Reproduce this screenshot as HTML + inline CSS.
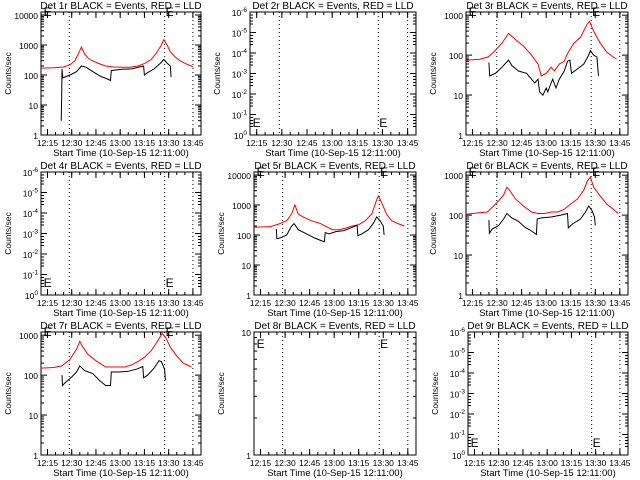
<!DOCTYPE html>
<html><head><meta charset="utf-8"><style>
body{margin:0;background:#fff}
svg{display:block;font-family:"Liberation Sans",sans-serif}
</style></head><body>
<svg id="c" width="640" height="480" viewBox="0 0 640 480"></svg>
<script>
// time axis: minutes since 12:11
const tMin = 0, tMax = 99;
const tickLabels = ["12:15","12:30","12:45","13:00","13:15","13:30","13:45"];
const tickTimes = [4,19,34,49,64,79,94];

const p1RedT=[0,8,14,18,21,23,25,27,30,35,40,45,50,55,60,64,68,71,74,76,78,80,83,86,90,94];
const p1RedV=[170,175,185,220,300,500,850,500,330,250,200,185,180,180,200,240,320,500,900,1500,1000,600,400,300,230,190];
const p1BlkT=[12.5,12.8,13,13.5,18,22,25,28,32,37,42,43,43.5,50,56,63.5,64,66,70,74,76,78,80,80.5];
const p1BlkV=[3,20,160,80,100,130,200,180,130,90,70,65,140,155,160,200,100,120,160,250,330,250,200,85];

const p3RedT=[0,8,13.5,17,22,26,30,35,40,44,46,49,52,54,57,60,62,66,70,74,75.5,78,82,86,90,92];
const p3RedV=[75,78,90,120,200,350,250,170,100,60,30,35,50,40,60,70,110,200,280,600,700,400,200,120,90,80];
const p3BlkT=[14,14.5,18,22,26,28,32,37,40,42,44,45,47,49,50,52,53,55,57,60,62,63.5,64.5,68,72,75,76,78,80,81];
const p3BlkV=[65,30,35,50,75,55,40,35,25,20,25,12,10,15,12,20,25,15,25,40,70,75,35,45,60,100,130,100,90,30];

const p5RedT=[0,10,15,20,23,25,27,30,35,40,45,48,52,56,60,64,68,72,75,76,78,81,84,88,92];
const p5RedV=[180,190,230,300,500,1000,500,400,300,250,180,150,150,170,200,220,300,500,1500,2000,1200,500,300,240,200];
const p5BlkT=[13.6,14,16,20,23,24.5,27,32,37,41,43,43.5,46,50,55,60,63,63.5,66,70,73,75,77,79,79.5];
const p5BlkV=[160,75,80,100,200,240,150,110,80,65,60,120,110,130,140,180,210,95,110,150,250,400,300,200,100];

const p6RedT=[0,8,13,17,20,23,25,27,30,35,40,44,48,52,56,60,64,68,72,74,76,78,82,86,90,93];
const p6RedV=[105,115,120,170,230,320,500,400,260,170,120,110,110,120,120,140,190,250,420,700,900,500,300,190,140,110];
const p6BlkT=[14,14.3,16,20,23,25,28,32,36,40,43,43.5,46,52,58,62,62.5,65,70,73,75,77,78.5,79];
const p6BlkV=[75,35,45,55,80,110,85,70,50,40,33,80,85,90,100,110,48,60,80,120,170,130,90,55];

const p7RedT=[0,8,13,18,22,24,26,29,34,38,40,46,52,56,60,64,68,72,75,77,80,84,88,93];
const p7RedV=[150,155,170,250,450,700,500,330,230,180,160,160,160,180,220,280,400,700,1100,900,500,300,200,160];
const p7BlkT=[13,13.3,15,19,22,24,27,32,36,40,43,43.5,48,54,60,63,63.5,66,70,73,74.5,76.5,77];
const p7BlkV=[100,55,65,90,120,170,130,110,75,55,55,120,120,125,145,165,85,100,150,230,220,140,75];

const NS="http://www.w3.org/2000/svg";
const svg=document.getElementById('c');
function mk(tag,attrs,parent){const e=document.createElementNS(NS,tag);for(const k in attrs)e.setAttribute(k,attrs[k]);(parent||svg).appendChild(e);return e;}

const panels=[
 {n:1,x0:41,x1:201,y0:12,y1:135,top:4.1,dec:4,dot:17.5,red:[p1RedT,p1RedV],blk:[p1BlkT,p1BlkV],eTop:true},
 {n:2,x0:250,x1:416,y0:12,y1:135,weird:true,dot:17.5},
 {n:3,x0:466,x1:628,y0:12,y1:135,top:3.08,dec:3,dot:18.8,red:[p3RedT,p3RedV],blk:[p3BlkT,p3BlkV],eTop:true},
 {n:4,x0:41,x1:201,y0:172,y1:295,weird:true,dot:17.5},
 {n:5,x0:254,x1:416,y0:172,y1:295,top:4.1,dec:4,dot:17.5,red:[p5RedT,p5RedV],blk:[p5BlkT,p5BlkV],eTop:true},
 {n:6,x0:466,x1:628,y0:172,y1:295,top:3.08,dec:3,dot:18.8,red:[p6RedT,p6RedV],blk:[p6BlkT,p6BlkV],eTop:true},
 {n:7,x0:41,x1:201,y0:332,y1:455,top:3.08,dec:3,dot:17.5,red:[p7RedT,p7RedV],blk:[p7BlkT,p7BlkV],eTop:true},
 {n:8,x0:254,x1:416,y0:332,y1:455,top:1,dec:1,dot:17.5,eMid:true},
 {n:9,x0:468,x1:628,y0:332,y1:455,weird:true,dot:18.8}
];

panels.forEach(p=>{
 const g=mk('g',{});
 
 
 const xs=t=>p.x0+(t-tMin)/(tMax-tMin)*(p.x1-p.x0);
 const ys=v=>p.y1-Math.log10(v)/p.top*(p.y1-p.y0);
 const cx=(p.x0+p.x1)/2;
 const ti=mk('text',{x:cx,y:p.y0-3,'text-anchor':'middle','font-size':'10'},g);
 ti.textContent='Det '+p.n+'r BLACK = Events, RED = LLD';
 
 
 const fr=mk('rect',{x:p.x0,y:p.y0,width:p.x1-p.x0,height:p.y1-p.y0,fill:'none',stroke:'#000','stroke-width':1},g);
 
 
 tickTimes.forEach((t,i)=>{
  const x=xs(t);
  mk('line',{x1:x,x2:x,y1:p.y1,y2:p.y1-6,stroke:'#000'},g);
  mk('line',{x1:x,x2:x,y1:p.y0,y2:p.y0+6,stroke:'#000'},g);
  const tl=mk('text',{x:x,y:p.y1+11,'text-anchor':'middle','font-size':'8.5'},g);
  tl.textContent=tickLabels[i];
  
  
 });
 for(let t=4;t<99;t+=5){const x=xs(t);mk('line',{x1:x,x2:x,y1:p.y1,y2:p.y1-3,stroke:'#000'},g);mk('line',{x1:x,x2:x,y1:p.y0,y2:p.y0+3,stroke:'#000'},g);}
 const xl=mk('text',{x:cx,y:p.y1+21,'text-anchor':'middle','font-size':'9.5'},g);
 xl.textContent='Start Time (10-Sep-15 12:11:00)';
 
 
 const yl=mk('text',{transform:`translate(${p.x0-30},${(p.y0+p.y1)/2}) rotate(-90)`,'text-anchor':'middle','font-size':'8.5'},g);
 yl.textContent='Counts/sec';
 
 
 if(p.weird){
  const labs=['-6','-5','-4','-3','-2','-1','0'];
  labs.forEach((e,i)=>{
   const y=p.y0+i*(p.y1-p.y0)/6;
   mk('line',{x1:p.x0,x2:p.x0+6,y1:y,y2:y,stroke:'#000'},g);
   mk('line',{x1:p.x1,x2:p.x1-6,y1:y,y2:y,stroke:'#000'},g);
   for(let k=1;k<5;k++){const yy=y+k*3;if(yy<p.y1){mk('line',{x1:p.x0,x2:p.x0+3,y1:yy,y2:yy,stroke:'#000'},g);mk('line',{x1:p.x1,x2:p.x1-3,y1:yy,y2:yy,stroke:'#000'},g);}}
   const tx=mk('text',{x:p.x0-3,y:y+4,'text-anchor':'end','font-size':'8.5'},g);
   
   
   tx.innerHTML='10<tspan dy="-4" font-size="6.5">'+e+'</tspan>';
  });
 } else {
  for(let d=0;d<=p.dec;d++){
   const y=ys(Math.pow(10,d));
   mk('line',{x1:p.x0,x2:p.x0+6,y1:y,y2:y,stroke:'#000'},g);
   mk('line',{x1:p.x1,x2:p.x1-6,y1:y,y2:y,stroke:'#000'},g);
   const tx=mk('text',{x:p.x0-3,y:y+4,'text-anchor':'end','font-size':'8.5'},g);
   tx.textContent=String(Math.pow(10,d));
   
   
   for(let m=2;m<10;m++){const v=m*Math.pow(10,d);if(Math.log10(v)>p.top)break;const yy=ys(v);
    mk('line',{x1:p.x0,x2:p.x0+3,y1:yy,y2:yy,stroke:'#000'},g);mk('line',{x1:p.x1,x2:p.x1-3,y1:yy,y2:yy,stroke:'#000'},g);}
  }
 }
 [p.dot,76.5,94].forEach(t=>{const x=xs(t);const l=mk('line',{x1:x,x2:x,y1:p.y0,y2:p.y1,stroke:'#000','stroke-dasharray':'1,3'},g);
  
  });
 [1,76.5].forEach(t=>{const x=xs(t)+1;
  let y= p.eTop? p.y0+4 : (p.eMid? p.y0+16 : p.y1-8);
  const e=mk('text',{x:x,y:y,'font-size':'12'},g);
  e.textContent='E';
  
  });
 const draw=(arr,col,name)=>{
  if(!arr)return;
  const pts=arr[0].map((t,i)=>xs(t).toFixed(1)+','+ys(arr[1][i]).toFixed(1)).join(' ');
  const pl=mk('polyline',{points:pts,fill:'none',stroke:col,'stroke-width':1},g);
  
  
 };
 draw(p.red,'#ff0000','lld-red-series');
 draw(p.blk,'#000000','events-black-series');
});
</script>
</body></html>
